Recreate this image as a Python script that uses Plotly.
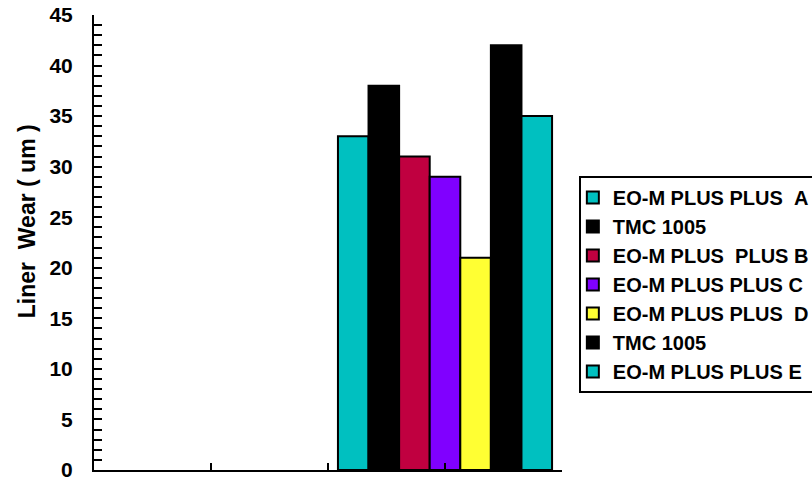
import plotly.graph_objects as go

# Liner wear results per oil, all tested in the same run
series_names = [
    "EO-M PLUS PLUS\u00a0\u00a0A",
    "TMC 1005",
    "EO-M PLUS\u00a0\u00a0PLUS B",
    "EO-M PLUS PLUS C",
    "EO-M PLUS PLUS\u00a0\u00a0D",
    "TMC 1005",
    "EO-M PLUS PLUS E",
]
wear_um = [33, 38, 31, 29, 21, 42, 35]
bar_colors = ["#00C0C0", "#000000", "#C00040", "#8000FF", "#FFFF33", "#000000", "#00C0C0"]
group_position = 1.5
y_title = "Liner\u00a0\u00a0Wear ( um )"

font_family = "Liberation Sans, Arial, sans-serif"

fig = go.Figure()
for name, val, col in zip(series_names, wear_um, bar_colors):
    fig.add_trace(go.Bar(
        x=[group_position], y=[val], name=name,
        marker=dict(color=col, line=dict(color="#000000", width=2)),
    ))

# vertical axis title, set a little above the middle of the axis
fig.add_annotation(
    text=y_title, xref="paper", yref="paper", x=-0.143, y=0.547,
    xanchor="center", yanchor="middle", textangle=-90, showarrow=False,
    font=dict(family=font_family, size=23, weight="bold", color="#000000"),
)

fig.update_layout(
    width=812, height=483,
    margin=dict(l=94, r=250, t=15, b=13, autoexpand=False),
    paper_bgcolor="white", plot_bgcolor="white",
    barmode="group", bargap=0.085, bargroupgap=0,
    font=dict(family=font_family, color="#000000"),
    showlegend=True,
    legend=dict(
        x=1.036, y=0.646, xanchor="left", yanchor="top",
        bgcolor="white", bordercolor="#000000", borderwidth=2,
        font=dict(family=font_family, size=20, weight="bold", color="#000000"),
        itemwidth=30, tracegroupgap=0, indentation=-8,
    ),
    xaxis=dict(
        range=[0, 2], showgrid=False, zeroline=False,
        showline=True, linecolor="#000000", linewidth=2,
        ticks="inside", ticklen=7, tickwidth=2, tickcolor="#000000",
        tick0=0, dtick=0.5, showticklabels=False,
    ),
    yaxis=dict(
        range=[0, 45], showgrid=False, zeroline=False,
        showline=True, linecolor="#000000", linewidth=2,
        ticks="inside", ticklen=8, tickwidth=2, tickcolor="#000000",
        tick0=0, dtick=5,
        minor=dict(ticks="inside", ticklen=8, tickwidth=2, tickcolor="#000000", dtick=1, showgrid=False),
        tickfont=dict(family=font_family, size=21, weight="bold", color="#000000"),
        ticklabelstandoff=15,
    ),
)

fig.write_html("out.html")
